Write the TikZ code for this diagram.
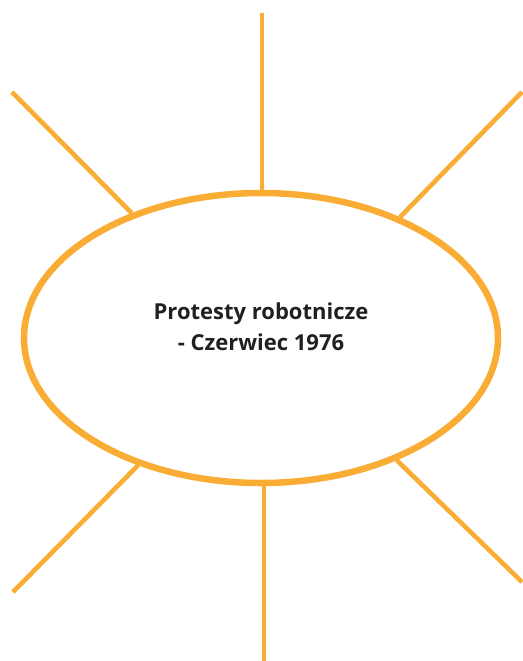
\documentclass[tikz,border=0pt]{standalone}
\usepackage{fontspec}
\setmainfont{Open Sans}
\usetikzlibrary{shapes.geometric}
\definecolor{sunorange}{RGB}{250,173,52}
\definecolor{textgrey}{RGB}{35,31,32}
\begin{document}
\begin{tikzpicture}[x=1pt,y=-1pt,
  ray/.style={draw=sunorange,line width=4.6pt},
  rim/.style={draw=sunorange,line width=6.5pt,ellipse,inner sep=0pt,
    minimum width=474pt,minimum height=290pt},
  label/.style={font=\fontsize{22pt}{31pt}\selectfont\bfseries,text=textgrey,align=center}]
\useasboundingbox (0,0) rectangle (522,661);
\node[rim] (rim) at (261,338) {};
\node[label] (title) at (261,327) {Protesty robotnicze\\- Czerwiec 1976};
\coordinate (top) at (262,13);
\coordinate (bot) at (264,661);
\coordinate (ul) at (12,92);
\coordinate (ur) at (522,92);
\coordinate (ll) at (13,592);
\coordinate (lr) at (522,582);
\draw[ray] (top) -- (top |- rim.north);
\draw[ray] (bot) -- (bot |- rim.south);
\draw[ray] (ul) -- (rim.136);
\draw[ray] (ur) -- (rim.41);
\draw[ray] (ll) -- (rim.226);
\draw[ray] (lr) -- (rim.318);
\end{tikzpicture}
\end{document}
